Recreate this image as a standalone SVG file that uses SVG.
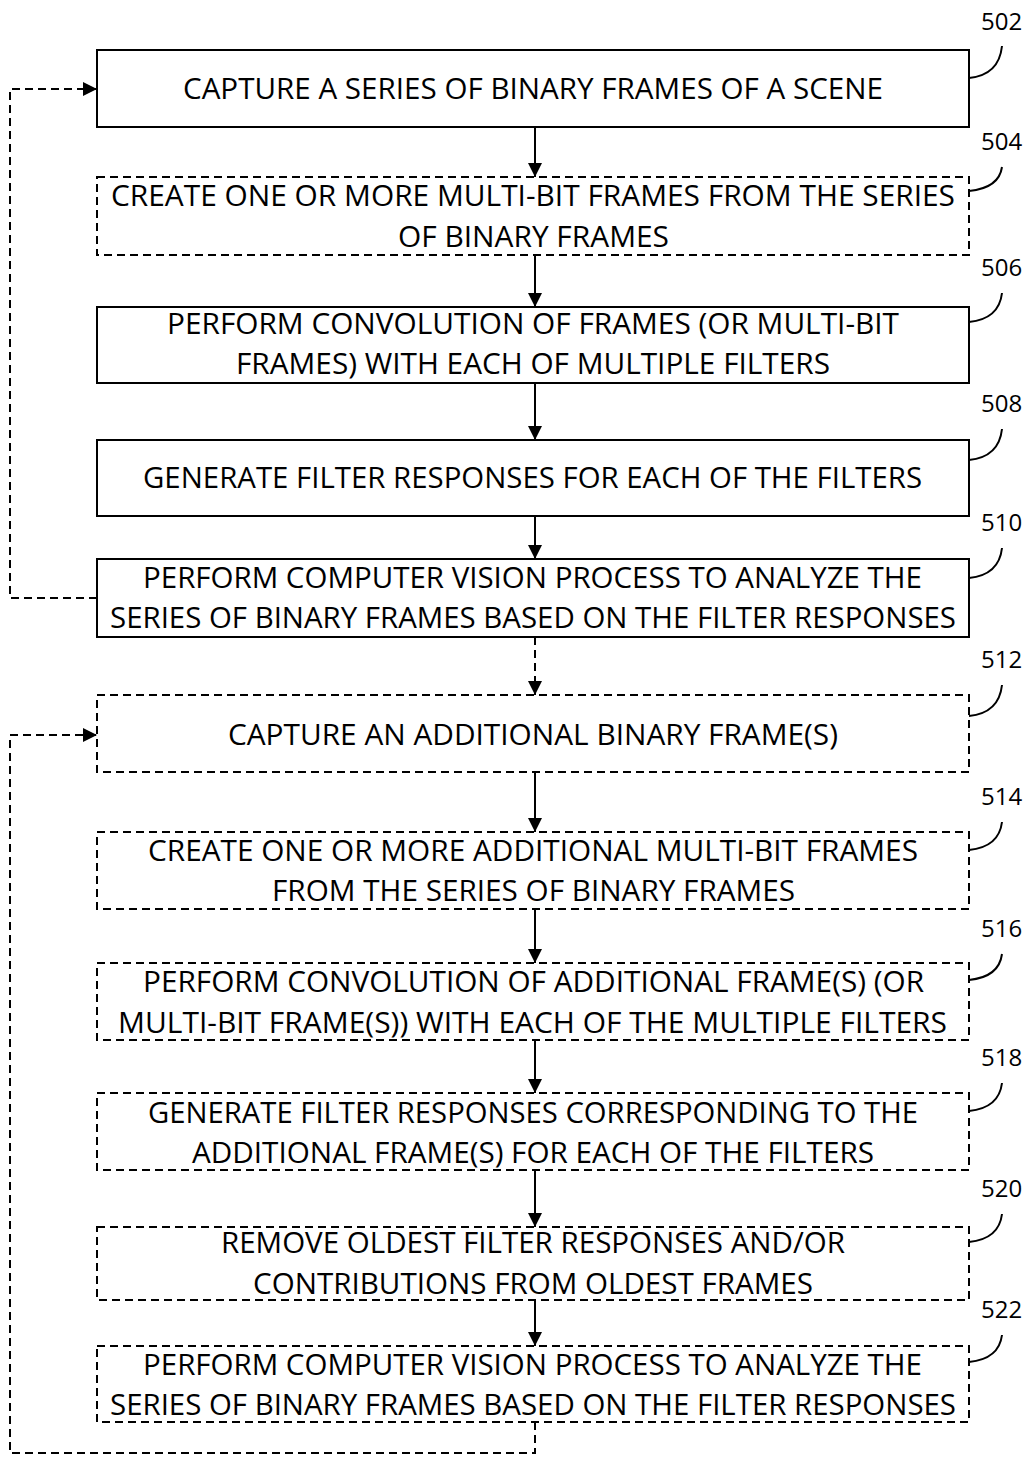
<svg xmlns="http://www.w3.org/2000/svg" width="1028" height="1457" viewBox="0 0 1028 1457">
  <defs>
    <marker id="arr" viewBox="0 0 10 10" refX="10" refY="5" markerWidth="14" markerHeight="14" markerUnits="userSpaceOnUse" orient="auto">
      <path d="M0,0 L10,5 L0,10 Z" fill="#000"/>
    </marker>
  </defs>
  <style>
    .box { fill: #fff; stroke: #000; stroke-width: 2; }
    .dbox { fill: #fff; stroke: #000; stroke-width: 2; stroke-dasharray: 8 5; }
    .t { font-family: "Open Sans", "Noto Sans", "Liberation Sans", sans-serif; font-size: 28.5px; fill: #000; }
    .ref { font-family: "Open Sans", "Noto Sans", "Liberation Sans", sans-serif; font-size: 24px; fill: #000; }
    .lead { fill: none; stroke: #000; stroke-width: 2; }
    .flow { fill: none; stroke: #000; stroke-width: 2; marker-end: url(#arr); }
    .dflow { fill: none; stroke: #000; stroke-width: 2; stroke-dasharray: 8 5; marker-end: url(#arr); }
  </style>
  <rect width="1028" height="1457" fill="#fff"/>

  <!-- connectors -->
  <g id="connectors">
    <line class="flow" x1="535" y1="127" x2="535" y2="177"/>
    <line class="flow" x1="535" y1="255" x2="535" y2="307"/>
    <line class="flow" x1="535" y1="383" x2="535" y2="440"/>
    <line class="flow" x1="535" y1="516" x2="535" y2="559"/>
    <line class="dflow" x1="535" y1="637" x2="535" y2="695"/>
    <line class="flow" x1="535" y1="772" x2="535" y2="832"/>
    <line class="flow" x1="535" y1="909" x2="535" y2="963"/>
    <line class="flow" x1="535" y1="1040" x2="535" y2="1093"/>
    <line class="flow" x1="535" y1="1170" x2="535" y2="1227"/>
    <line class="flow" x1="535" y1="1300" x2="535" y2="1346"/>
    <!-- feedback loops -->
    <path class="dflow" d="M97,598 H10 V89 H97"/>
    <path class="dflow" d="M535,1422 V1453 H10 V735 H97"/>
  </g>

  <g id="n502">
    <rect class="box" x="97" y="50" width="872" height="77"/>
    <text class="t" x="183" y="99" textLength="700" lengthAdjust="spacingAndGlyphs">CAPTURE A SERIES OF BINARY FRAMES OF A SCENE</text>
    <text class="ref" x="981" y="30">502</text>
    <path class="lead" d="M969,78 Q999,75 1002,46"/>
  </g>

  <g id="n504">
    <rect class="dbox" x="97" y="177" width="872" height="78"/>
    <text class="t" x="111" y="206" textLength="844" lengthAdjust="spacingAndGlyphs">CREATE ONE OR MORE MULTI-BIT FRAMES FROM THE SERIES</text>
    <text class="t" x="398" y="247" textLength="271" lengthAdjust="spacingAndGlyphs">OF BINARY FRAMES</text>
    <text class="ref" x="981" y="150">504</text>
    <path class="lead" d="M969,191 Q999,188 1002,167"/>
  </g>

  <g id="n506">
    <rect class="box" x="97" y="307" width="872" height="76"/>
    <text class="t" x="167" y="334" textLength="732" lengthAdjust="spacingAndGlyphs">PERFORM CONVOLUTION OF FRAMES (OR MULTI-BIT</text>
    <text class="t" x="236" y="374" textLength="594" lengthAdjust="spacingAndGlyphs">FRAMES) WITH EACH OF MULTIPLE FILTERS</text>
    <text class="ref" x="981" y="276">506</text>
    <path class="lead" d="M969,322 Q999,319 1002,293"/>
  </g>

  <g id="n508">
    <rect class="box" x="97" y="440" width="872" height="76"/>
    <text class="t" x="143" y="488" textLength="779" lengthAdjust="spacingAndGlyphs">GENERATE FILTER RESPONSES FOR EACH OF THE FILTERS</text>
    <text class="ref" x="981" y="412">508</text>
    <path class="lead" d="M969,460 Q999,457 1002,429"/>
  </g>

  <g id="n510">
    <rect class="box" x="97" y="559" width="872" height="78"/>
    <text class="t" x="143" y="588" textLength="779" lengthAdjust="spacingAndGlyphs">PERFORM COMPUTER VISION PROCESS TO ANALYZE THE</text>
    <text class="t" x="110" y="628" textLength="846" lengthAdjust="spacingAndGlyphs">SERIES OF BINARY FRAMES BASED ON THE FILTER RESPONSES</text>
    <text class="ref" x="981" y="531">510</text>
    <path class="lead" d="M969,578 Q999,575 1002,548"/>
  </g>

  <g id="n512">
    <rect class="dbox" x="97" y="695" width="872" height="77"/>
    <text class="t" x="228" y="745" textLength="610" lengthAdjust="spacingAndGlyphs">CAPTURE AN ADDITIONAL BINARY FRAME(S)</text>
    <text class="ref" x="981" y="668">512</text>
    <path class="lead" d="M969,716 Q999,713 1002,685"/>
  </g>

  <g id="n514">
    <rect class="dbox" x="97" y="832" width="872" height="77"/>
    <text class="t" x="148" y="861" textLength="770" lengthAdjust="spacingAndGlyphs">CREATE ONE OR MORE ADDITIONAL MULTI-BIT FRAMES</text>
    <text class="t" x="272" y="901" textLength="523" lengthAdjust="spacingAndGlyphs">FROM THE SERIES OF BINARY FRAMES</text>
    <text class="ref" x="981" y="805">514</text>
    <path class="lead" d="M969,850 Q999,847 1002,822"/>
  </g>

  <g id="n516">
    <rect class="dbox" x="97" y="963" width="872" height="77"/>
    <text class="t" x="143" y="992" textLength="781" lengthAdjust="spacingAndGlyphs">PERFORM CONVOLUTION OF ADDITIONAL FRAME(S) (OR</text>
    <text class="t" x="118" y="1033" textLength="829" lengthAdjust="spacingAndGlyphs">MULTI-BIT FRAME(S)) WITH EACH OF THE MULTIPLE FILTERS</text>
    <text class="ref" x="981" y="937">516</text>
    <path class="lead" d="M969,980 Q999,977 1002,954"/>
  </g>

  <g id="n518">
    <rect class="dbox" x="97" y="1093" width="872" height="77"/>
    <text class="t" x="148" y="1123" textLength="770" lengthAdjust="spacingAndGlyphs">GENERATE FILTER RESPONSES CORRESPONDING TO THE</text>
    <text class="t" x="192" y="1163" textLength="682" lengthAdjust="spacingAndGlyphs">ADDITIONAL FRAME(S) FOR EACH OF THE FILTERS</text>
    <text class="ref" x="981" y="1066">518</text>
    <path class="lead" d="M969,1111 Q999,1108 1002,1083"/>
  </g>

  <g id="n520">
    <rect class="dbox" x="97" y="1227" width="872" height="73"/>
    <text class="t" x="221" y="1253" textLength="624" lengthAdjust="spacingAndGlyphs">REMOVE OLDEST FILTER RESPONSES AND/OR</text>
    <text class="t" x="253" y="1294" textLength="560" lengthAdjust="spacingAndGlyphs">CONTRIBUTIONS FROM OLDEST FRAMES</text>
    <text class="ref" x="981" y="1197">520</text>
    <path class="lead" d="M969,1242 Q999,1239 1002,1214"/>
  </g>

  <g id="n522">
    <rect class="dbox" x="97" y="1346" width="872" height="76"/>
    <text class="t" x="143" y="1375" textLength="779" lengthAdjust="spacingAndGlyphs">PERFORM COMPUTER VISION PROCESS TO ANALYZE THE</text>
    <text class="t" x="110" y="1415" textLength="846" lengthAdjust="spacingAndGlyphs">SERIES OF BINARY FRAMES BASED ON THE FILTER RESPONSES</text>
    <text class="ref" x="981" y="1318">522</text>
    <path class="lead" d="M969,1362 Q999,1359 1002,1335"/>
  </g>
</svg>
